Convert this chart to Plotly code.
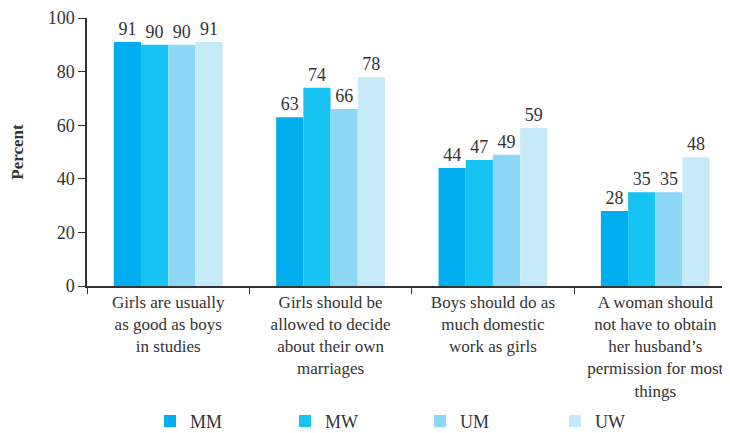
import plotly.graph_objects as go

# Data
categories = [
    "Girls are usually<br>as good as boys<br>in studies",
    "Girls should be<br>allowed to decide<br>about their own<br>marriages",
    "Boys should do as<br>much domestic<br>work as girls",
    "A woman should<br>not have to obtain<br>her husband’s<br>permission for most<br>things",
]
groups = ["MM", "MW", "UM", "UW"]
mm = [91, 63, 44, 28]
mw = [90, 74, 47, 35]
um = [90, 66, 49, 35]
uw = [91, 78, 59, 48]
colors = ["#00AEEF", "#17C3F3", "#8ED8F7", "#C7EAF9"]

font = "Times New Roman, Liberation Serif, serif"
txt = "#333333"

fig = go.Figure()
for name, vals, c in zip(groups, [mm, mw, um, uw], colors):
    fig.add_trace(go.Bar(
        x=categories, y=vals, name=name, marker_color=c, marker_line_width=0,
        text=vals, textposition="outside", cliponaxis=False,
        textfont=dict(size=18, color=txt, family=font),
    ))

# page body has an 8px margin, so the margins are pulled in by 8px
fig.update_layout(
    width=730, height=433,
    margin=dict(l=79, r=8, t=10, b=155, autoexpand=False),
    plot_bgcolor="white", paper_bgcolor="white",
    font=dict(family=font, size=17, color=txt),
    barmode="group", bargap=0.33, bargroupgap=0,
    showlegend=True,
    legend=dict(orientation="h", x=0.098, xanchor="left", y=-0.505, yanchor="middle",
                entrywidth=90, entrywidthmode="pixels", font=dict(size=18, family=font),
                traceorder="normal"),
)
fig.update_xaxes(
    range=[-0.5, 3.46], showline=True, linecolor="#333", linewidth=1.5,
    ticks="outside", tickson="boundaries", ticklen=6, tickcolor="#333",
    tickangle=0, tickfont=dict(size=17, color=txt, family=font), automargin=False,
)
fig.update_yaxes(
    range=[0, 100], tickvals=[0, 20, 40, 60, 80, 100], showgrid=False, zeroline=False,
    showline=True, linecolor="#333", linewidth=1.5, ticks="outside", ticklen=7,
    tickcolor="#333", tickfont=dict(size=18, color=txt, family=font), automargin=False,
    title=dict(text="<b>Percent</b>", font=dict(size=17, color=txt, family=font), standoff=22),
)

fig.write_html("out.html")
